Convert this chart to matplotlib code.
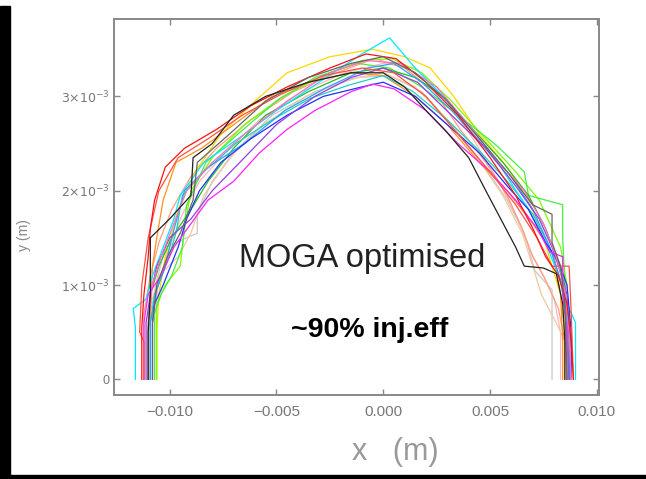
import matplotlib
matplotlib.use('Agg')
import matplotlib.pyplot as plt
from matplotlib.patches import Rectangle

# dynamic aperture boundaries, x in mm, y in units of 1e-3 m
da_red = [(-11.3,0),(-11.3,0.55),(-11.2,0.9),(-11.0,1.3),(-10.9,1.6),(-10.7,1.9),(-10.2,2.25),(-9.3,2.45),(-7.8,2.65),(-6.2,2.9),(-4.5,3.1),(-2.5,3.3),(-0.8,3.45),(0.6,3.4),(2.0,3.15),(3.5,2.8),(5.0,2.35),(6.2,1.95),(7.0,1.6),(7.6,1.3),(8.2,1.1),(8.6,0.8),(8.8,0.4),(8.9,0)]
da_orange = [(-10.9,0),(-10.9,0.7),(-10.8,1.2),(-10.6,1.5),(-10.3,1.9),(-9.7,2.3),(-8.5,2.45),(-7.0,2.7),(-5.2,3.0),(-3.5,3.15),(-1.5,3.25),(0.0,3.22),(1.5,3.0),(3.0,2.7),(4.5,2.3),(5.8,2.0),(7.0,1.65),(7.6,1.45),(8.0,1.3),(8.3,0.9),(8.4,0.4),(8.4,0)]
da_gold = [(-10.6,0),(-10.6,0.5),(-10.5,0.9),(-10.2,1.3),(-9.6,1.8),(-8.8,2.2),(-7.6,2.6),(-6.0,2.95),(-4.5,3.25),(-2.5,3.42),(-0.5,3.5),(1.0,3.42),(2.2,3.3),(3.3,3.0),(4.5,2.6),(5.8,2.25),(6.8,1.9),(7.5,1.5),(7.9,1.2),(8.3,0.9),(8.5,0.5),(8.6,0)]
da_lime = [(-10.7,0),(-10.7,0.7),(-10.4,0.9),(-9.9,1.1),(-9.4,1.4),(-9.2,1.85),(-8.3,2.3),(-6.8,2.6),(-5.0,2.95),(-3.2,3.2),(-1.2,3.35),(0.3,3.3),(1.8,3.1),(3.5,2.8),(5.2,2.5),(6.6,2.2),(6.8,1.95),(8.4,1.85),(8.4,1.5),(8.5,1.0),(8.6,0.5),(8.6,0)]
da_green = [(-11.0,0),(-11.0,0.55),(-10.9,0.9),(-10.5,1.2),(-9.9,1.5),(-9.0,1.8),(-8.2,2.1),(-7.0,2.45),(-5.5,2.8),(-3.5,3.05),(-1.5,3.25),(0.0,3.3),(1.5,3.2),(2.8,3.0),(4.2,2.65),(5.6,2.3),(6.8,1.95),(7.6,1.6),(8.1,1.3),(8.5,1.0),(8.6,0.5),(8.7,0)]
da_cyan = [(-11.6,0),(-11.6,0.55),(-11.7,0.75),(-11.1,0.85),(-10.8,1.1),(-10.3,1.4),(-9.8,1.7),(-9.5,1.95),(-8.4,2.3),(-6.8,2.55),(-5.0,2.85),(-3.0,3.15),(-1.0,3.45),(0.3,3.62),(1.5,3.3),(2.8,3.0),(4.2,2.6),(5.5,2.25),(6.8,1.8),(7.6,1.45),(8.2,1.1),(8.7,0.75),(9.0,0.6),(9.0,0)]
da_sky = [(-10.9,0),(-10.9,0.6),(-10.6,0.95),(-10.2,1.2),(-9.9,1.5),(-9.6,1.75),(-9.3,2.0),(-8.2,2.25),(-6.5,2.5),(-4.6,2.85),(-2.6,3.1),(-0.7,3.3),(0.5,3.35),(1.8,3.15),(3.2,2.85),(4.6,2.5),(6.0,2.15),(7.0,1.8),(7.8,1.4),(8.3,1.05),(8.6,0.6),(8.7,0)]
da_blue = [(-10.8,0),(-10.8,0.6),(-10.7,0.8),(-10.3,1.0),(-9.6,1.4),(-9.2,1.7),(-8.6,2.0),(-7.6,2.3),(-6.2,2.55),(-4.5,2.8),(-2.8,3.0),(-1.0,3.1),(0.0,3.15),(1.5,3.0),(3.0,2.7),(4.5,2.4),(5.8,2.05),(6.8,1.8),(7.6,1.45),(8.2,1.25),(8.6,1.0),(8.8,0.5),(8.8,0)]
da_violet = [(-11.1,0),(-11.1,0.6),(-10.9,0.9),(-10.6,1.2),(-10.0,1.5),(-9.0,1.7),(-8.0,2.0),(-6.5,2.35),(-5.0,2.7),(-3.2,3.0),(-1.5,3.2),(0.0,3.3),(1.6,3.15),(3.2,2.8),(4.8,2.45),(6.2,2.05),(7.3,1.7),(7.9,1.4),(8.2,1.2),(8.6,0.9),(8.7,0.4),(8.7,0)]
da_magenta = [(-11.2,0),(-11.2,0.6),(-11.0,0.9),(-10.4,1.1),(-9.8,1.4),(-9.0,1.65),(-8.2,1.9),(-7.0,2.1),(-5.8,2.4),(-4.5,2.65),(-3.2,2.85),(-1.5,3.05),(-0.5,3.13),(0.5,3.08),(2.0,2.85),(3.5,2.5),(5.0,2.2),(6.2,1.9),(7.2,1.6),(7.8,1.35),(8.4,1.3),(8.4,0.9),(8.6,0.5),(8.6,0)]
da_pink = [(-11.0,0),(-11.0,0.6),(-10.8,1.0),(-10.4,1.3),(-9.8,1.65),(-9.2,2.0),(-8.0,2.3),(-6.5,2.6),(-4.5,2.95),(-2.5,3.25),(-0.8,3.38),(0.8,3.35),(2.5,3.1),(4.0,2.7),(5.4,2.3),(6.6,2.0),(7.5,1.65),(8.1,1.3),(8.5,0.95),(8.7,0.5),(8.8,0)]
da_lightpink = [(-10.7,0),(-10.7,0.7),(-10.5,1.05),(-10.0,1.4),(-9.4,1.75),(-8.6,2.1),(-7.4,2.4),(-5.8,2.75),(-3.8,3.05),(-1.8,3.25),(0.0,3.35),(1.5,3.3),(3.0,2.95),(4.2,2.55),(5.4,2.1),(6.3,1.7),(6.9,1.35),(7.5,1.1),(8.0,0.85),(8.3,0.5),(8.3,0)]
da_black = [(-11.0,0),(-11.0,0.5),(-10.9,0.9),(-10.9,1.5),(-10.0,1.7),(-9.0,1.95),(-8.9,2.35),(-8.0,2.5),(-7.0,2.8),(-5.5,3.0),(-3.5,3.15),(-1.5,3.25),(0.0,3.25),(1.0,3.1),(2.0,2.85),(2.9,2.64),(4.0,2.35),(4.8,2.0),(5.5,1.7),(6.2,1.4),(6.6,1.2),(7.5,1.18),(8.1,1.12),(8.4,0.8),(8.5,0.4),(8.5,0)]
da_darkgrey = [(-10.8,0),(-10.8,0.6),(-10.6,1.0),(-10.1,1.3),(-9.5,1.55),(-8.9,1.9),(-8.7,2.3),(-7.2,2.6),(-5.5,2.95),(-3.5,3.2),(-1.5,3.35),(0.0,3.42),(1.5,3.25),(3.0,2.95),(4.5,2.55),(5.8,2.2),(7.0,1.85),(7.9,1.75),(7.9,1.45),(8.3,1.2),(8.5,0.8),(8.6,0)]
da_lightgrey = [(-10.9,0),(-10.9,0.7),(-10.6,1.05),(-10.2,1.4),(-9.2,1.5),(-8.7,1.55),(-8.7,1.75),(-8.0,2.1),(-6.8,2.45),(-5.2,2.8),(-3.2,3.05),(-1.2,3.2),(0.3,3.22),(1.8,3.05),(3.2,2.7),(4.6,2.3),(5.8,1.9),(6.6,1.55),(7.1,1.15),(7.9,0.95),(7.9,0.4),(7.9,0)]
da_tan = [(-11.0,0),(-11.0,0.7),(-10.5,1.1),(-9.6,1.3),(-9.0,1.55),(-8.4,1.95),(-7.2,2.35),(-5.6,2.7),(-3.6,3.0),(-1.6,3.18),(0.0,3.25),(1.5,3.1),(3.0,2.75),(4.4,2.35),(5.6,1.95),(6.5,1.55),(7.0,1.2),(7.4,0.9),(8.2,0.55),(8.5,0.4),(8.5,0)]
da_salmon = [(-11.2,0),(-11.2,0.7),(-10.9,1.1),(-10.5,1.45),(-9.9,1.8),(-9.0,2.15),(-7.8,2.45),(-6.2,2.75),(-4.2,3.05),(-2.2,3.25),(-0.4,3.4),(1.0,3.3),(2.4,3.05),(3.6,2.65),(4.8,2.3),(5.8,1.95),(6.5,1.6),(7.0,1.3),(7.6,1.05),(8.2,0.75),(8.5,0.4),(8.5,0)]
da_turq = [(-10.9,0),(-10.9,0.6),(-10.7,0.9),(-10.1,1.25),(-9.7,1.55),(-9.4,1.95),(-8.4,2.2),(-6.9,2.5),(-5.2,2.75),(-3.4,2.98),(-1.6,3.12),(0.0,3.22),(1.4,3.05),(3.0,2.75),(4.6,2.4),(6.0,2.05),(7.0,1.75),(7.8,1.4),(8.3,1.05),(8.7,0.65),(8.8,0.3),(8.8,0)]
da_lawn = [(-10.6,0),(-10.6,0.8),(-10.2,1.0),(-9.5,1.2),(-9.3,1.6),(-9.0,2.0),(-8.0,2.35),(-6.5,2.7),(-4.7,3.0),(-2.8,3.22),(-1.0,3.38),(0.4,3.4),(1.8,3.25),(3.2,2.95),(4.8,2.55),(6.2,2.2),(7.3,1.9),(7.8,1.65),(8.3,1.4),(8.6,1.0),(8.7,0.4),(8.7,0)]
da_tomato = [(-11.2,0),(-11.2,0.4),(-11.4,0.5),(-11.3,1.0),(-11.0,1.5),(-10.5,2.0),(-9.6,2.35),(-8.2,2.55),(-6.6,2.8),(-4.8,3.02),(-2.8,3.22),(-1.0,3.3),(0.5,3.25),(2.0,3.0),(3.5,2.6),(5.0,2.2),(6.2,1.85),(7.2,1.5),(7.9,1.2),(8.7,1.2),(8.8,0.7),(8.9,0)]

runs = [da_lightgrey, da_lightpink, da_tan, da_salmon, da_gold, da_orange, da_lawn,
        da_lime, da_green, da_turq, da_cyan, da_sky, da_blue, da_violet, da_pink,
        da_magenta, da_tomato, da_red, da_darkgrey, da_black]
colors = ['#c8c8c8', '#ffb6c1', '#f0c8a0', '#ff9f80', '#ffd700', '#ff9020', '#7cfc00',
          '#44ee44', '#22bb22', '#20d0c0', '#00e8ff', '#30a0ff', '#2030ff', '#9040e0', '#ff70c0',
          '#ff20ff', '#ff5040', '#ff1010', '#666666', '#222222']

xticks = [-0.010, -0.005, 0.000, 0.005, 0.010]
xtick_labels = ['\u22120.010', '\u22120.005', '0.000', '0.005', '0.010']
yticks = [0, 1e-3, 2e-3, 3e-3]
ytick_labels = ['0', r'$1{\times}10^{-3}$', r'$2{\times}10^{-3}$', r'$3{\times}10^{-3}$']

plt.rcParams['font.family'] = ['Liberation Sans', 'DejaVu Sans']
fig = plt.figure(figsize=(6.46, 4.79), dpi=100)
ax = fig.add_axes([0.1765, 0.1754, 0.7508, 0.7849])

for run, col in zip(runs, colors):
    xs = [p[0] * 1e-3 for p in run]
    ys = [p[1] * 1e-3 for p in run]
    ax.plot(xs, ys, color=col, lw=0.9)

ax.set_xlim(-0.0126, 0.0101)
ax.set_ylim(-0.166e-3, 3.82e-3)

grey = '#888888'
for sp in ax.spines.values():
    sp.set_color(grey)
    sp.set_linewidth(1.4)
ax.set_xticks(xticks)
ax.set_xticklabels(xtick_labels, fontsize=11, color='#777777')
ax.set_yticks(yticks)
ax.set_yticklabels(ytick_labels, fontsize=9, color='#777777')
ax.tick_params(direction='in', length=4, width=1, color=grey, top=True, right=True, pad=7)
ax.tick_params(axis='y', pad=3)

fig.text(395/646, 1 - 452/479, 'x   (m)', fontsize=22, color='#999999',
         ha='center', va='center')
fig.text(24/646, 1 - 235/479, 'y (m)', rotation=90, fontsize=10, color='#888888',
         ha='center', va='center')

ax.text(0.511, 0.364, 'MOGA optimised', transform=ax.transAxes, fontsize=23.5,
        ha='center', va='center', color='#222222')
ax.text(0.528, 0.173, '~90% inj.eff', transform=ax.transAxes, fontsize=20.5,
        ha='center', va='center', fontweight='bold', color='black')

# black frame pieces along the left and bottom of the slide
fig.add_artist(Rectangle((0, 0), 10/646, 1 - 6/479, transform=fig.transFigure,
                         color='black', zorder=10))
fig.add_artist(Rectangle((0, 0), 1, 4/479, transform=fig.transFigure,
                         color='black', zorder=10))

fig.savefig('out.png', dpi=100)
